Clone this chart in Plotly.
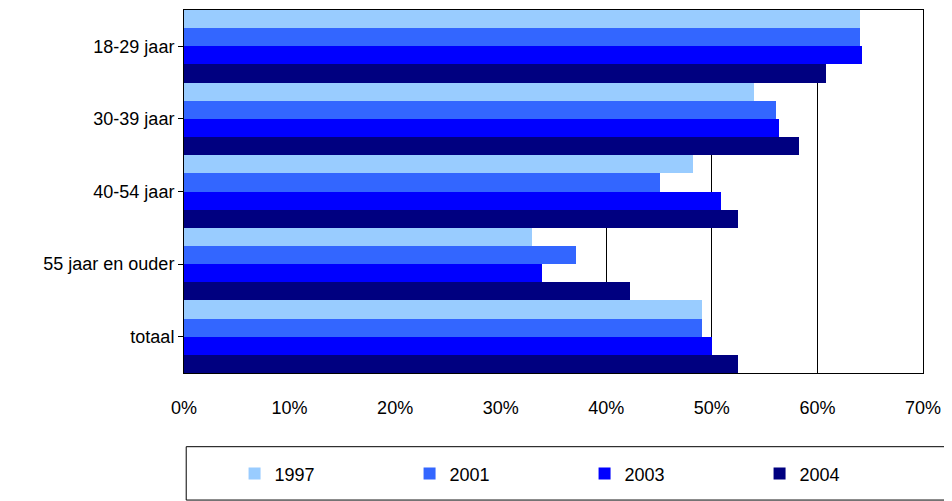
import plotly.graph_objects as go

categories = ["18-29 jaar", "30-39 jaar", "40-54 jaar", "55 jaar en ouder", "totaal"]
years = ["1997", "2001", "2003", "2004"]
values = {
    "1997": [64.0, 54.0, 48.2, 33.0, 49.1],
    "2001": [64.0, 56.1, 45.1, 37.1, 49.1],
    "2003": [64.2, 56.4, 50.9, 33.9, 50.0],
    "2004": [60.8, 58.3, 52.5, 42.2, 52.5],
}
colors = {"1997": "#99CCFF", "2001": "#3366FF", "2003": "#0000FF", "2004": "#000080"}

fig = go.Figure()
for y in years:
    fig.add_trace(go.Bar(
        y=categories, x=[v / 100 for v in values[y]], name=y, orientation="h",
        marker=dict(color=colors[y], line=dict(width=0)),
    ))

# legend frame drawn as a shape so it can be taller than the legend itself
fig.add_shape(type="rect", xref="paper", yref="paper",
              x0=0.003, x1=1.03, y0=-0.35, y1=-0.203,
              line=dict(color="black", width=1), fillcolor="rgba(0,0,0,0)")

# page has an 8px body margin, so the figure is 8px smaller and offset
fig.update_layout(
    width=944, height=493,
    barmode="group", bargap=0, bargroupgap=0,
    plot_bgcolor="white", paper_bgcolor="white",
    font=dict(family="Liberation Sans, Arial", size=18, color="black"),
    margin=dict(l=176, r=29, t=2, b=128, autoexpand=False),
    showlegend=True,
    legend=dict(
        orientation="h", xref="container", yref="container",
        x=0.24, xanchor="left", y=0.055, yanchor="middle",
        borderwidth=0, entrywidth=130, bgcolor="rgba(0,0,0,0)",
        font=dict(size=18), traceorder="normal", itemwidth=30,
    ),
    xaxis=dict(
        range=[0, 0.7], dtick=0.1, tickformat=".0%",
        showgrid=True, gridcolor="black", gridwidth=1,
        showline=True, linecolor="black", mirror=True,
        zeroline=False, ticks="", ticklabelstandoff=18, automargin=False,
    ),
    yaxis=dict(
        autorange="reversed", showline=True, linecolor="black", mirror=True,
        ticks="outside", ticklen=5, tickcolor="black", showgrid=False,
        automargin=False,
    ),
)

fig.write_html("out.html")
